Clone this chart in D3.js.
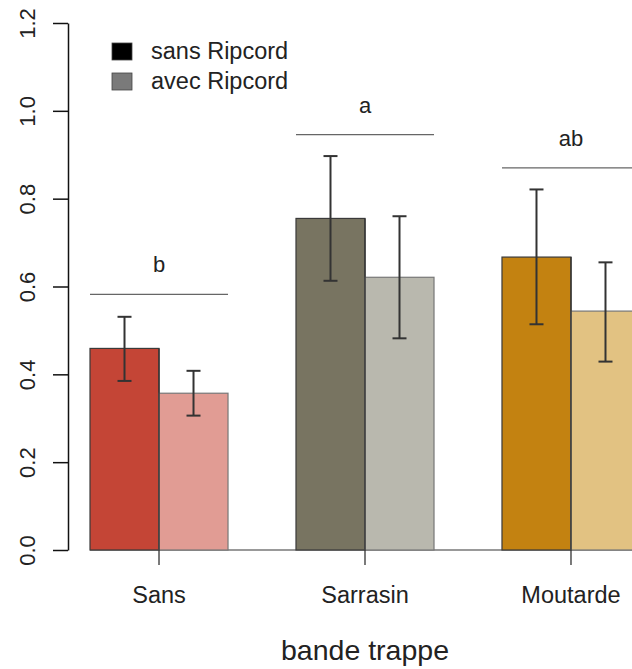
<!DOCTYPE html>
<meta charset="utf-8">
<style>
body { margin: 0; background: #fff; }
text { font-family: "Liberation Sans", Arial, Helvetica, sans-serif; fill: #222; }
</style>
<svg width="632" height="669"></svg>
<script src="https://cdn.jsdelivr.net/npm/d3@7"></script>
<script>
// groups along the x axis
var groups = ["Sans", "Sarrasin", "Moutarde"];
var series = ["sans Ripcord", "avec Ripcord"];

// mean values per group (sans, avec)
var sansValues = [0.459, 0.755, 0.667];
var avecValues = [0.357, 0.621, 0.544];

// error bar bounds
var sansLow  = [0.385, 0.613, 0.514];
var sansHigh = [0.531, 0.897, 0.821];
var avecLow  = [0.306, 0.482, 0.429];
var avecHigh = [0.408, 0.760, 0.655];

// significance letters and the height of their line
var letters = ["b", "a", "ab"];
var letterLines = [0.582, 0.946, 0.870];

var yTicks = [0, 0.2, 0.4, 0.6, 0.8, 1.0, 1.2];

var darkColors  = ["#c44536", "#787461", "#c38211"];
var lightColors = ["#e19c94", "#b9b8ae", "#e2c282"];

var svg = d3.select("svg");

var x = d3.scaleBand()
    .domain(groups)
    .range([90, 640])
    .paddingInner(0.33)
    .paddingOuter(0);

var xs = d3.scaleBand()
    .domain(series)
    .range([0, x.bandwidth()]);

var y = d3.scaleLinear()
    .domain([0, 1.2])
    .range([550, 23]);

// build rows from the arrays
var rows = [];
groups.forEach(function(g, i) {
  rows.push({group: g, s: series[0], i: i, v: sansValues[i], lo: sansLow[i], hi: sansHigh[i], fill: darkColors[i]});
  rows.push({group: g, s: series[1], i: i, v: avecValues[i], lo: avecLow[i], hi: avecHigh[i], fill: lightColors[i]});
});

// baseline
svg.append("line")
    .attr("x1", x.range()[0]).attr("x2", 632)
    .attr("y1", y(0)).attr("y2", y(0))
    .attr("stroke", "#777").attr("stroke-width", 1.5);

// bars
svg.append("g").selectAll("rect")
  .data(rows)
  .enter().append("rect")
    .attr("x", function(d) { return x(d.group) + xs(d.s); })
    .attr("y", function(d) { return y(d.v); })
    .attr("width", xs.bandwidth())
    .attr("height", function(d) { return y(0) - y(d.v); })
    .attr("fill", function(d) { return d.fill; })
    .attr("stroke", function(d) { return d.s === series[0] ? "#3a3a3a" : "#777"; })
    .attr("stroke-width", 1.2);

// x ticks between the two bars of each group
svg.append("g").selectAll("line")
  .data(groups)
  .enter().append("line")
    .attr("x1", function(d) { return x(d) + x.bandwidth() / 2; })
    .attr("x2", function(d) { return x(d) + x.bandwidth() / 2; })
    .attr("y1", y(1.2) + 0).attr("y2", y(0) + 15)
    .attr("y1", function(d, i) { return y(sansValues[i]); })
    .attr("stroke", "#333").attr("stroke-width", 1.3);

// x labels
svg.append("g").selectAll("text")
  .data(groups)
  .enter().append("text")
    .attr("x", function(d) { return x(d) + x.bandwidth() / 2; })
    .attr("y", 603)
    .attr("text-anchor", "middle")
    .style("font-size", "23.5px")
    .text(function(d) { return d; });

// error bars
var err = svg.append("g").attr("stroke", "#333").attr("stroke-width", 2);
rows.forEach(function(d) {
  var cx = x(d.group) + xs(d.s) + xs.bandwidth() / 2;
  err.append("line").attr("x1", cx).attr("x2", cx).attr("y1", y(d.lo)).attr("y2", y(d.hi));
  err.append("line").attr("x1", cx - 7).attr("x2", cx + 7).attr("y1", y(d.lo)).attr("y2", y(d.lo));
  err.append("line").attr("x1", cx - 7).attr("x2", cx + 7).attr("y1", y(d.hi)).attr("y2", y(d.hi));
});

// significance lines and letters
groups.forEach(function(g, i) {
  svg.append("line")
      .attr("x1", x(g)).attr("x2", x(g) + x.bandwidth())
      .attr("y1", y(letterLines[i])).attr("y2", y(letterLines[i]))
      .attr("stroke", "#666").attr("stroke-width", 1.3);
  svg.append("text")
      .attr("x", x(g) + x.bandwidth() / 2)
      .attr("y", y(letterLines[i]) - 22)
      .attr("text-anchor", "middle")
      .style("font-size", "22px")
      .text(letters[i]);
});

// y axis
var yAxis = svg.append("g")
    .attr("transform", "translate(68,0)")
    .call(d3.axisLeft(y).tickValues(yTicks).tickSize(15).tickSizeOuter(0).tickFormat(d3.format(".1f")));
yAxis.select(".domain").attr("stroke", "#111").attr("stroke-width", 1.5);
yAxis.selectAll(".tick line").attr("stroke", "#111").attr("stroke-width", 1.5);
yAxis.selectAll(".tick text")
    .attr("x", null).attr("dy", null)
    .attr("transform", "translate(-33,0) rotate(-90)")
    .attr("text-anchor", "middle")
    .style("font-size", "22px")
    .style("font-family", "'Liberation Sans', Arial, sans-serif")
    .attr("fill", "#222");

// axis title
svg.append("text")
    .attr("x", x("Sarrasin") + x.bandwidth() / 2)
    .attr("y", 660)
    .attr("text-anchor", "middle")
    .style("font-size", "28.5px")
    .text("bande trappe");

// legend
var legendFill = ["#000", "#7a7a7a"];
var legend = svg.append("g").selectAll("g")
  .data(series)
  .enter().append("g")
    .attr("transform", function(d, i) { return "translate(112," + (43 + i * 30) + ")"; });
legend.append("rect")
    .attr("width", 20).attr("height", 17)
    .attr("fill", function(d, i) { return legendFill[i]; })
    .attr("stroke", "#444").attr("stroke-width", 0.8);
legend.append("text")
    .attr("x", 39).attr("y", 16)
    .style("font-size", "23.5px")
    .text(function(d) { return d; });
</script>
